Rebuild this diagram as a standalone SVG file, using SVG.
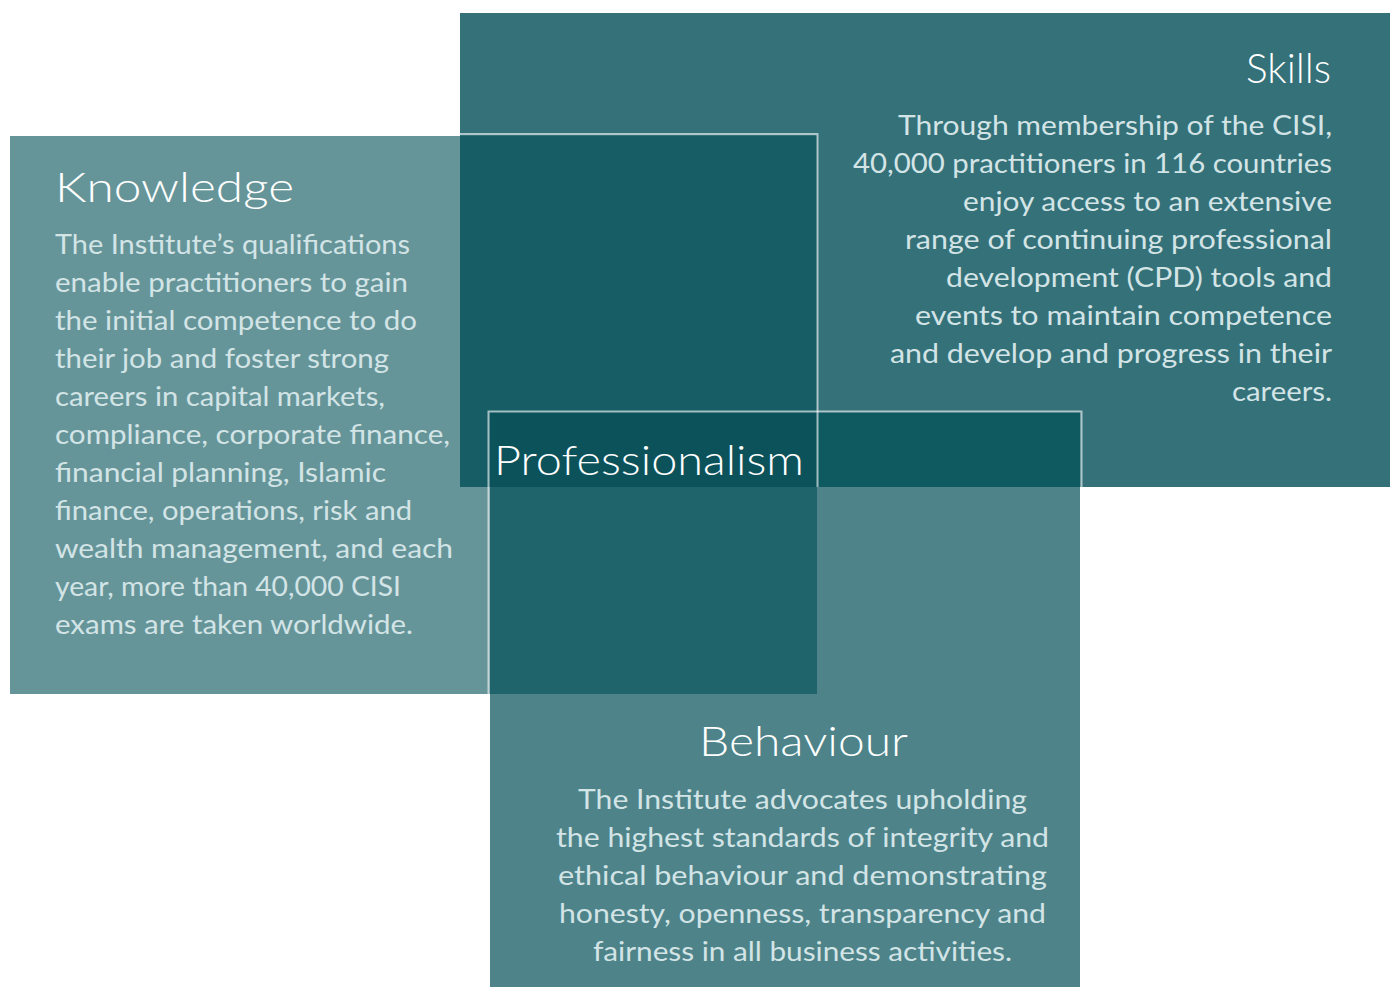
<svg xmlns="http://www.w3.org/2000/svg" width="1397" height="987" viewBox="0 0 1397 987">
<style>
.h{font-family:Lato,"Noto Sans",sans-serif;font-weight:300;font-size:42px;fill:#ffffff}
.b{font-family:Lato,"Noto Sans",sans-serif;font-size:27px;fill:#d3e4e6}
.ol{fill:none;stroke:#ffffff;stroke-opacity:0.6;stroke-width:2}
</style>
<rect width="1397" height="987" fill="#ffffff"/>
<g id="shapes">
<rect id="skills-box" x="460" y="13" width="930" height="474" fill="#357179"/>
<rect id="knowledge-box" x="10" y="136" width="807" height="558" fill="#669599"/>
<rect id="behaviour-box" x="490" y="412" width="590" height="575" fill="#4d8389"/>
<rect x="460" y="136" width="357" height="351" fill="#165d66"/>
<rect x="490" y="412" width="590" height="75" fill="#0f5961"/>
<rect x="490" y="412" width="327" height="282" fill="#1f646a"/>
<rect x="490" y="412" width="327" height="75" fill="#0b525b"/>
</g>
<g id="outlines">
<path class="ol" d="M460,134 H817.5 V487"/>
<path class="ol" d="M488.5,987 V411.5 H1081.5 V987"/>
<path d="M460,12.5 H1390" stroke="#ffffff" stroke-opacity="0.35" stroke-width="1"/>
<path d="M1082,487.5 H1390" stroke="#ffffff" stroke-opacity="0.35" stroke-width="1"/>
</g>
<g id="knowledge">
<text class="h" x="55" y="202" textLength="239" lengthAdjust="spacingAndGlyphs">Knowledge</text>
<text class="b" x="55" y="254" textLength="355" lengthAdjust="spacingAndGlyphs">The Institute’s qualifications</text>
<text class="b" x="55" y="292" textLength="353" lengthAdjust="spacingAndGlyphs">enable practitioners to gain</text>
<text class="b" x="55" y="330" textLength="362" lengthAdjust="spacingAndGlyphs">the initial competence to do</text>
<text class="b" x="55" y="368" textLength="334" lengthAdjust="spacingAndGlyphs">their job and foster strong</text>
<text class="b" x="55" y="406" textLength="330" lengthAdjust="spacingAndGlyphs">careers in capital markets,</text>
<text class="b" x="55" y="444" textLength="395" lengthAdjust="spacingAndGlyphs">compliance, corporate finance,</text>
<text class="b" x="55" y="482" textLength="331" lengthAdjust="spacingAndGlyphs">financial planning, Islamic</text>
<text class="b" x="55" y="520" textLength="357" lengthAdjust="spacingAndGlyphs">finance, operations, risk and</text>
<text class="b" x="55" y="558" textLength="398" lengthAdjust="spacingAndGlyphs">wealth management, and each</text>
<text class="b" x="55" y="596" textLength="346" lengthAdjust="spacingAndGlyphs">year, more than 40,000 CISI</text>
<text class="b" x="55" y="634" textLength="358" lengthAdjust="spacingAndGlyphs">exams are taken worldwide.</text>
</g>
<g id="skills">
<text class="h" x="1246" y="83" textLength="85" lengthAdjust="spacingAndGlyphs">Skills</text>
<text class="b" x="898" y="135" textLength="434" lengthAdjust="spacingAndGlyphs">Through membership of the CISI,</text>
<text class="b" x="853" y="173" textLength="479" lengthAdjust="spacingAndGlyphs">40,000 practitioners in 116 countries</text>
<text class="b" x="963" y="211" textLength="369" lengthAdjust="spacingAndGlyphs">enjoy access to an extensive</text>
<text class="b" x="905" y="249" textLength="427" lengthAdjust="spacingAndGlyphs">range of continuing professional</text>
<text class="b" x="946" y="287" textLength="386" lengthAdjust="spacingAndGlyphs">development (CPD) tools and</text>
<text class="b" x="915" y="325" textLength="417" lengthAdjust="spacingAndGlyphs">events to maintain competence</text>
<text class="b" x="890" y="363" textLength="442" lengthAdjust="spacingAndGlyphs">and develop and progress in their</text>
<text class="b" x="1232" y="401" textLength="100" lengthAdjust="spacingAndGlyphs">careers.</text>
</g>
<g id="professionalism">
<text class="h" x="494" y="475" textLength="310" lengthAdjust="spacingAndGlyphs">Professionalism</text>
</g>
<g id="behaviour">
<text class="h" x="699" y="756" textLength="209" lengthAdjust="spacingAndGlyphs">Behaviour</text>
<text class="b" x="578" y="809" textLength="449" lengthAdjust="spacingAndGlyphs">The Institute advocates upholding</text>
<text class="b" x="556" y="847" textLength="493" lengthAdjust="spacingAndGlyphs">the highest standards of integrity and</text>
<text class="b" x="558" y="885" textLength="489" lengthAdjust="spacingAndGlyphs">ethical behaviour and demonstrating</text>
<text class="b" x="559" y="923" textLength="487" lengthAdjust="spacingAndGlyphs">honesty, openness, transparency and</text>
<text class="b" x="593" y="961" textLength="419" lengthAdjust="spacingAndGlyphs">fairness in all business activities.</text>
</g>
</svg>
